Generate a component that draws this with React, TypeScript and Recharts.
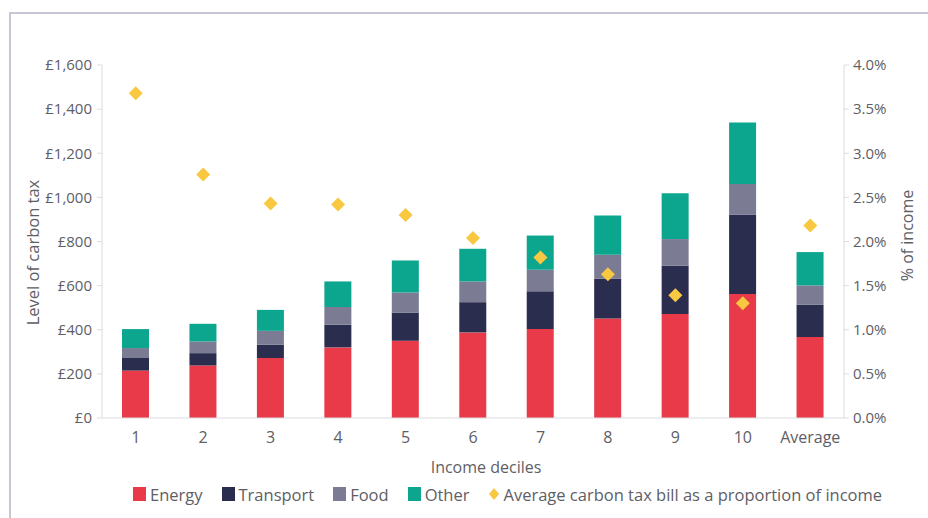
import { ComposedChart, Bar, Scatter, XAxis, YAxis, Legend } from 'recharts';

const deciles = ['1', '2', '3', '4', '5', '6', '7', '8', '9', '10', 'Average'];
const energy = [215, 238, 272, 320, 350, 388, 403, 451, 471, 562, 367];
const transport = [57, 56, 60, 103, 128, 137, 171, 180, 219, 359, 146];
const food = [45, 53, 63, 80, 91, 94, 98, 109, 121, 140, 88];
const other = [86, 80, 95, 116, 145, 148, 155, 178, 208, 278, 151];
const shareOfIncome = [3.68, 2.76, 2.43, 2.42, 2.3, 2.04, 1.82, 1.63, 1.39, 1.3, 2.18];

const poundTicks = [0, 200, 400, 600, 800, 1000, 1200, 1400, 1600];
const percentTicks = [0, 0.5, 1, 1.5, 2, 2.5, 3, 3.5, 4];
const legendOrder = ['Energy', 'Transport', 'Food', 'Other', 'Average carbon tax bill as a proportion of income'];

const data = deciles.map((decile, i) => ({
  decile,
  energy: energy[i],
  transport: transport[i],
  food: food[i],
  other: other[i],
  share: shareOfIncome[i],
}));

const FONT = '"Open Sans", Lato, sans-serif';
const TEXT = '#5e5e66';
const AXIS = '#dcdce2';
const YELLOW = '#f8c840';

const Diamond = (props: any) => {
  const { cx, cy } = props;
  if (cx == null || cy == null) return null;
  const r = 7;
  return (
    <polygon
      points={`${cx},${cy - r} ${cx + r},${cy} ${cx},${cy + r} ${cx - r},${cy}`}
      fill={YELLOW}
    />
  );
};

const renderLegend = (props: any) => {
  const items = [...props.payload].sort(
    (a: any, b: any) => legendOrder.indexOf(a.value) - legendOrder.indexOf(b.value)
  );
  return (
    <div style={{ display: 'flex', alignItems: 'center', height: 18, fontFamily: FONT, fontSize: 16.5, color: TEXT, whiteSpace: 'nowrap' }}>
      {items.map((entry: any) => (
        <div key={entry.value} style={{ display: 'flex', alignItems: 'center', marginRight: 19 }}>
          {entry.type === 'diamond' ? (
            <svg width={12} height={14} style={{ marginRight: 3 }}>
              <polygon points="6,1 11,7 6,13 1,7" fill={YELLOW} />
            </svg>
          ) : (
            <span style={{ display: 'inline-block', width: 13, height: 14, background: entry.color, marginRight: 4 }} />
          )}
          <span>{entry.value}</span>
        </div>
      ))}
    </div>
  );
};

export default function App() {
  return (
    <div style={{ position: 'absolute', left: 0, top: 0, width: 928, height: 518, background: '#fff', overflow: 'hidden' }}>
      <div
        style={{
          position: 'absolute',
          left: 9,
          top: 12,
          right: -4,
          bottom: -4,
          borderLeft: '2px solid #c6c6d4',
          borderTop: '2px solid #c6c6d4',
        }}
      />
      <ComposedChart
        width={928}
        height={518}
        data={data}
        margin={{ top: 65, right: 0, left: 0, bottom: 22 }}
        barCategoryGap={0}
        style={{ position: 'absolute', left: 0, top: 0 }}
      >
        <XAxis
          dataKey="decile"
          height={60}
          tickLine={false}
          tickMargin={8}
          stroke={AXIS}
          tick={{ fill: TEXT, fontSize: 16, fontFamily: FONT }}
          label={{ value: 'Income deciles', position: 'insideBottom', offset: 5, dx: 13, fill: TEXT, fontSize: 16, fontFamily: FONT }}
        />
        <YAxis
          yAxisId="left"
          width={102}
          domain={[0, 1600]}
          ticks={poundTicks}
          tickSize={5}
          tickMargin={5}
          stroke={AXIS}
          tick={{ fill: TEXT, fontSize: 15, fontFamily: FONT }}
          tickFormatter={(v: number) => `£${v.toLocaleString('en-GB')}`}
          label={({ viewBox }: any) => {
            const x = viewBox.x + 32;
            const y = viewBox.y + viewBox.height / 2 + 11;
            return (
              <text x={x} y={y} transform={`rotate(-90, ${x}, ${y})`} textAnchor="middle" dominantBaseline="central" fill={TEXT} fontSize={16.5} fontFamily={FONT}>
                Level of carbon tax
              </text>
            );
          }}
        />
        <YAxis
          yAxisId="right"
          orientation="right"
          width={84}
          domain={[0, 4]}
          ticks={percentTicks}
          tickSize={5}
          tickMargin={4}
          stroke={AXIS}
          tick={{ fill: TEXT, fontSize: 15, fontFamily: FONT, textAnchor: 'start' }}
          tickFormatter={(v: number) => `${v.toFixed(1)}%`}
          label={({ viewBox }: any) => {
            const x = viewBox.x + 63;
            const y = viewBox.y + viewBox.height / 2 - 6;
            return (
              <text x={x} y={y} transform={`rotate(-90, ${x}, ${y})`} textAnchor="middle" dominantBaseline="central" fill={TEXT} fontSize={16} fontFamily={FONT}>
                % of income
              </text>
            );
          }}
        />
        <Legend
          verticalAlign="bottom"
          content={renderLegend}
          wrapperStyle={{ left: 133, top: 485, width: 'auto', bottom: 'auto' }}
        />
        <Bar yAxisId="left" dataKey="energy" name="Energy" stackId="tax" fill="#e83a49" barSize={27} isAnimationActive={false} />
        <Bar yAxisId="left" dataKey="transport" name="Transport" stackId="tax" fill="#2b2d4f" barSize={27} isAnimationActive={false} />
        <Bar yAxisId="left" dataKey="food" name="Food" stackId="tax" fill="#7b7b93" barSize={27} isAnimationActive={false} />
        <Bar yAxisId="left" dataKey="other" name="Other" stackId="tax" fill="#0ca58d" barSize={27} isAnimationActive={false} />
        <Scatter
          yAxisId="right"
          dataKey="share"
          name="Average carbon tax bill as a proportion of income"
          legendType="diamond"
          fill={YELLOW}
          shape={Diamond}
          isAnimationActive={false}
        />
      </ComposedChart>
    </div>
  );
}
